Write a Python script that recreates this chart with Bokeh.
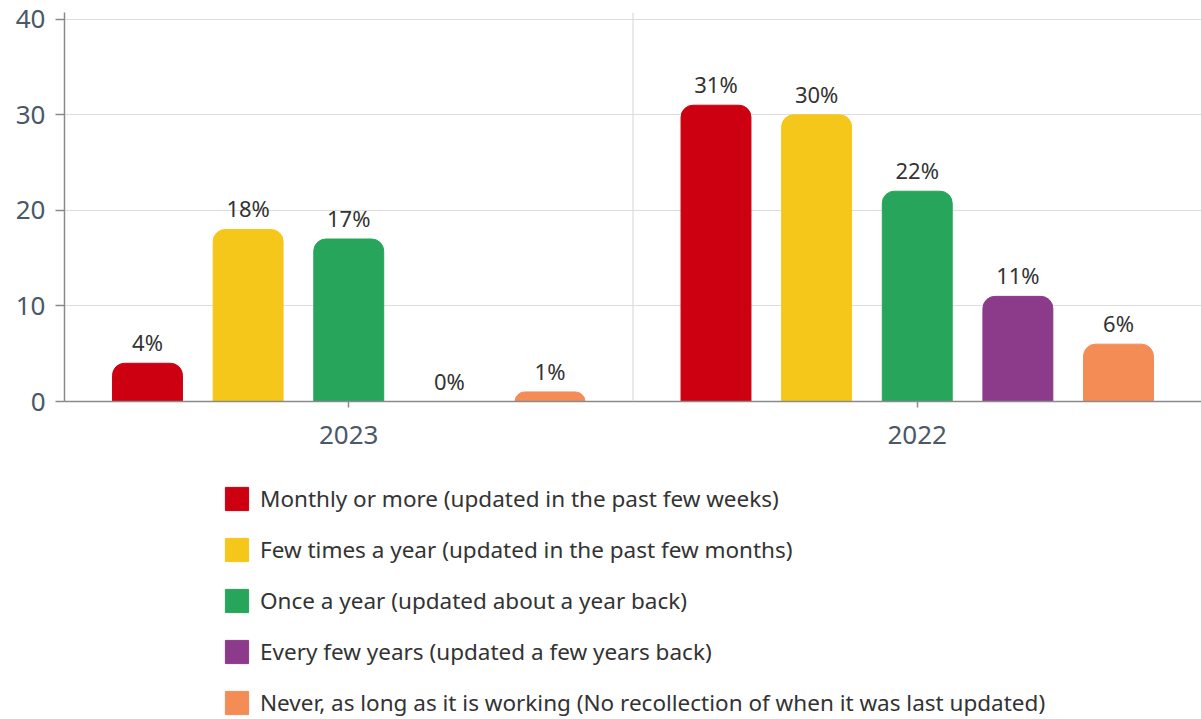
from bokeh.plotting import figure
from bokeh.layouts import column
from bokeh.models import (FactorRange, Range1d, ColumnDataSource, Span, Legend,
                          LegendItem, FixedTicker)
from bokeh.transform import dodge
from bokeh.core.properties import value
from bokeh.embed import file_html
from bokeh.resources import INLINE

# ---- data ----
years = ["2023", "2022"]
series = [
    "Monthly or more (updated in the past few weeks)",
    "Few times a year (updated in the past few months)",
    "Once a year (updated about a year back)",
    "Every few years (updated a few years back)",
    "Never, as long as it is working (No recollection of when it was last updated)",
]
values_2023 = [4, 18, 17, 0, 1]
values_2022 = [31, 30, 22, 11, 6]
y_ticks = [0, 10, 20, 30, 40]

# ---- style ----
colors = ["#cc0011", "#f5c71a", "#27a55b", "#8c3a8a", "#f48c56"]
offsets = [-0.354, -0.177, 0.0, 0.177, 0.354]
FONT = "Noto Sans"

p = figure(x_range=FactorRange(*years), y_range=Range1d(0, 40.7),
           width=1201, height=470,
           min_border_left=64, min_border_top=12, min_border_right=0, min_border_bottom=69,
           output_backend="svg", toolbar_location=None)
p.x_range.range_padding = 0
p.outline_line_color = None

for i, name in enumerate(series):
    vals = [values_2023[i], values_2022[i]]
    src = ColumnDataSource(dict(x=years, top=vals, label=[f"{v}%" for v in vals]))
    p.vbar(x=dodge("x", offsets[i], range=p.x_range), top="top", width=0.123,
           source=src, fill_color=colors[i], line_color=colors[i],
           border_radius=(12, 12, 0, 0))
    p.text(x=dodge("x", offsets[i], range=p.x_range), y="top", text="label", source=src,
           text_align="center", text_baseline="bottom", y_offset=-6,
           text_font=value(FONT), text_font_size="22px", text_color="#333333")

p.add_layout(Span(location=1, dimension="height", line_color="#d4d4d4", line_width=1))

p.xgrid.visible = False
p.ygrid.ticker = FixedTicker(ticks=y_ticks)
p.ygrid.grid_line_color = "#dedede"
p.ygrid.grid_line_width = 1

p.yaxis.ticker = FixedTicker(ticks=y_ticks)
for ax in (p.xaxis[0], p.yaxis[0]):
    ax.axis_line_color = "#8a8a8a"
    ax.axis_line_width = 1.5
    ax.major_tick_line_color = "#8a8a8a"
    ax.major_tick_line_width = 1.5
    ax.major_tick_in = 0
    ax.minor_tick_line_color = None
    ax.major_label_text_font = FONT
    ax.major_label_text_color = "#4a5868"
    ax.major_label_text_font_size = "26px"
p.yaxis.major_tick_out = 9
p.yaxis.major_label_standoff = 10
p.xaxis.major_tick_out = 6
p.xaxis.major_label_standoff = 18

# ---- legend panel ----
lg = figure(width=1201, height=249, x_range=Range1d(0, 1), y_range=Range1d(0, 1),
            x_axis_type=None, y_axis_type=None,
            min_border_left=64, min_border_right=0, min_border_top=0, min_border_bottom=0,
            output_backend="svg", toolbar_location=None)
lg.outline_line_color = None
lg.grid.visible = False
items = []
for i, name in enumerate(series):
    # placeholder renderers (outside the visible range) that only feed the legend swatches
    r = lg.vbar(x=[-10], top=[0], width=0.1, fill_color=colors[i], line_color=colors[i],
                border_radius=4)
    items.append(LegendItem(label=name, renderers=[r]))
legend = Legend(items=items, orientation="vertical", location=(158, 1),
                glyph_width=29, glyph_height=29, label_height=23, label_width=10,
                spacing=20, label_standoff=9, padding=0, margin=0,
                label_text_font=FONT, label_text_font_size="22.5px", label_text_color="#333333",
                border_line_color=None, background_fill_alpha=0)
lg.add_layout(legend)

layout = column(p, lg, spacing=0)
open("out.html", "w").write(file_html(layout, INLINE))
